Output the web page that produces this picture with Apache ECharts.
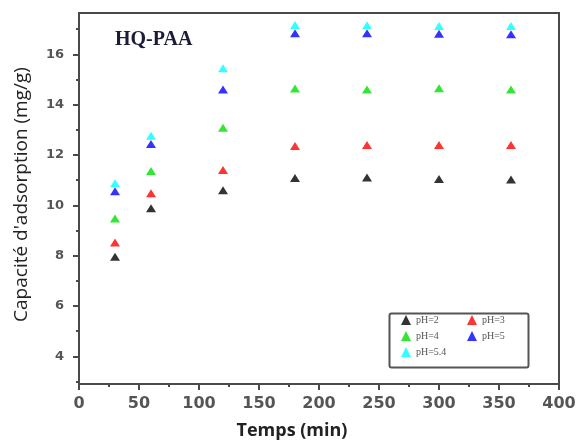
<!DOCTYPE html>
<html><head><meta charset="utf-8">
<script src="https://cdn.jsdelivr.net/npm/echarts@6/dist/echarts.min.js"></script>
<style>html,body{margin:0;padding:0;background:#fff}#c{width:576px;height:441px}</style>
</head><body><div id="c"></div>
<script>
const time = [30, 60, 120, 180, 240, 300, 360];
const pH2  = [7.96, 9.88, 10.6, 11.08, 11.1, 11.04, 11.02];
const pH3  = [8.52, 10.48, 11.4, 12.36, 12.4, 12.4, 12.4];
const pH4  = [9.48, 11.36, 13.08, 14.64, 14.6, 14.65, 14.6];
const pH5  = [10.56, 12.44, 14.6, 16.84, 16.84, 16.82, 16.8];
const pH54 = [10.88, 12.76, 15.44, 17.16, 17.15, 17.12, 17.12];
const seriesNames = ['pH=2', 'pH=3', 'pH=4', 'pH=5', 'pH=5.4'];
const seriesColors = ['#000000', '#ff0000', '#00e000', '#0000ff', '#00ffff'];
const yMajorTicks = [4, 6, 8, 10, 12, 14, 16];
const yMinorTicks = [3, 5, 7, 9, 11, 13, 15, 17];

const allData = [pH2, pH3, pH4, pH5, pH54];
const axisColor = '#4a4a4a';
const legendBase = {
  orient: 'vertical', top: 315, padding: 0, itemGap: 6,
  itemWidth: 10, itemHeight: 10, icon: 'triangle',
  textStyle: { fontFamily: 'Liberation Serif', fontSize: 10, color: '#555' }
};
const chart = echarts.init(document.getElementById('c'));
chart.setOption({
  animation: false,
  backgroundColor: '#fff',
  title: {
    text: 'HQ-PAA', left: 110, top: 25,
    textStyle: { fontFamily: 'Liberation Serif', fontWeight: 'bold', fontSize: 20, color: '#1b1b3a' }
  },
  grid: { left: 79, right: 17, top: 13, bottom: 57, show: true, borderColor: axisColor, borderWidth: 2, outerBoundsMode: 'none', containLabel: false },
  legend: [
    Object.assign({}, legendBase, { left: 401, data: [seriesNames[0], seriesNames[2], seriesNames[4]] }),
    Object.assign({}, legendBase, { left: 467, data: [seriesNames[1], seriesNames[3]] })
  ],
  graphic: [{
    type: 'rect', left: 387, top: 311, silent: true,
    shape: { width: 139, height: 54, r: 2 },
    style: { fill: 'none', stroke: '#555', lineWidth: 2 }
  }],
  xAxis: {
    type: 'value', min: 0, max: 400, interval: 50,
    name: 'Temps (min)', nameLocation: 'middle', nameGap: 38,
    nameTextStyle: { fontFamily: 'Open Sans', fontWeight: 'bold', fontSize: 18, color: '#222', padding: [0, 54, 0, 0] },
    axisLine: { show: true, lineStyle: { color: axisColor, width: 2 } },
    axisTick: { show: true, length: 6, lineStyle: { color: axisColor, width: 2 } },
    minorTick: { show: true, splitNumber: 2, length: 3, lineStyle: { color: axisColor, width: 2 } },
    axisLabel: { margin: 12, fontFamily: 'DejaVu Sans', fontWeight: 'bold', fontSize: 16, color: '#555' },
    splitLine: { show: false }
  },
  yAxis: [{
    type: 'value', min: 2.9, max: 17.64,
    name: "Capacité d'adsorption (mg/g)", nameLocation: 'middle', nameGap: 48,
    nameTextStyle: { fontFamily: 'Open Sans', fontSize: 19, color: '#222', padding: [0, 0, 0, 8] },
    axisLine: { show: true, lineStyle: { color: axisColor, width: 2 } },
    axisTick: { show: true, length: 6, customValues: yMajorTicks, lineStyle: { color: axisColor, width: 2 } },
    axisLabel: { margin: 15, customValues: yMajorTicks, fontFamily: 'DejaVu Sans', fontWeight: 'bold', fontSize: 13, color: '#555' },
    splitLine: { show: false }
  }, {
    type: 'value', min: 2.9, max: 17.64, position: 'left',
    axisLine: { show: false },
    axisTick: { show: true, length: 3, customValues: yMinorTicks, lineStyle: { color: axisColor, width: 2 } },
    axisLabel: { show: false },
    splitLine: { show: false }
  }],
  series: allData.map((vals, i) => ({
    name: seriesNames[i], type: 'scatter', symbol: 'triangle', symbolSize: [10, 8],
    itemStyle: { color: seriesColors[i] },
    data: time.map((t, j) => [t, vals[j]])
  }))
});
</script></body></html>
